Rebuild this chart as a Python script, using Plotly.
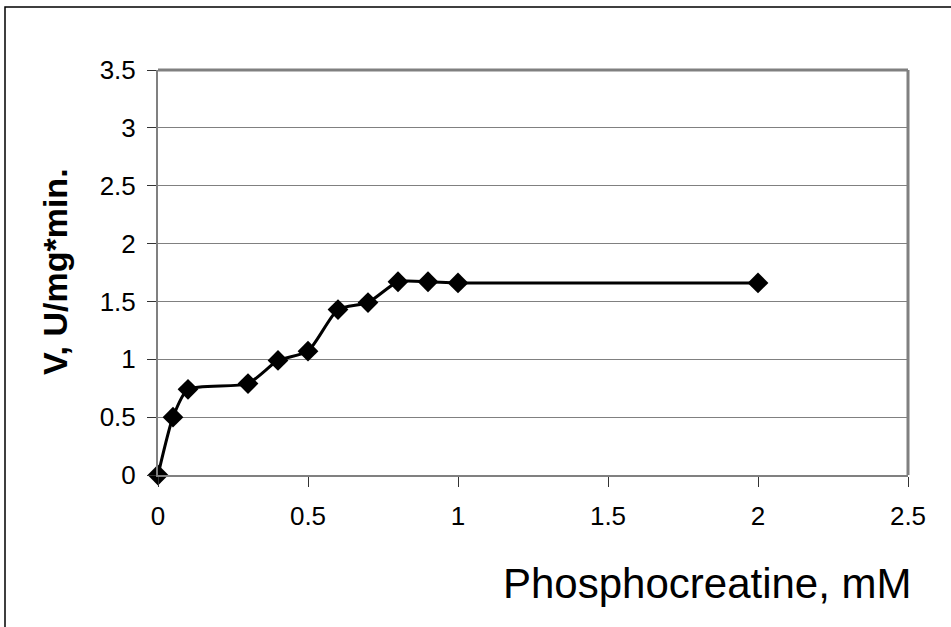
import plotly.graph_objects as go

phosphocreatine_mM = [0, 0.05, 0.1, 0.3, 0.4, 0.5, 0.6, 0.7, 0.8, 0.9, 1.0, 2.0]
velocity = [0, 0.5, 0.74, 0.79, 0.99, 1.07, 1.43, 1.49, 1.67, 1.67, 1.66, 1.66]
x_ticks = [0, 0.5, 1, 1.5, 2, 2.5]
y_ticks = [0, 0.5, 1, 1.5, 2, 2.5, 3, 3.5]

W, H = 951, 627
L, R, T, B = 158, 908, 70, 475

fig = go.Figure()
fig.add_trace(go.Scatter(
    x=phosphocreatine_mM, y=velocity, mode="lines+markers",
    line=dict(color="black", width=3, shape="spline", smoothing=0.6),
    marker=dict(symbol="diamond", size=16, color="black"),
    showlegend=False, cliponaxis=False,
))

font = "Liberation Sans, Arial, sans-serif"
px = lambda x: (x - L) / (R - L)
py = lambda y: (B - y) / (B - T)
fig.update_layout(
    width=W, height=H,
    margin=dict(l=L, r=W - R, t=T, b=H - B, pad=0),
    paper_bgcolor="white", plot_bgcolor="white",
    font=dict(family=font, color="black", size=26),
    xaxis=dict(range=[0, 2.5], tickvals=x_ticks, ticktext=[f"{v:g}" for v in x_ticks],
               showgrid=False, zeroline=False, showline=True, linecolor="#808080", linewidth=2,
               ticks="outside", ticklen=10, tickcolor="#333", tickwidth=1,
               ticklabelstandoff=7,
               tickfont=dict(size=26, family=font), fixedrange=True),
    yaxis=dict(range=[0, 3.5], tickvals=y_ticks, ticktext=[f"{v:g}" for v in y_ticks],
               showgrid=True, gridcolor="#808080", gridwidth=1, zeroline=False,
               showline=True, linecolor="#808080", linewidth=2,
               ticks="outside", ticklen=9, tickcolor="#333", tickwidth=1,
               ticklabelstandoff=6,
               tickfont=dict(size=26, family=font), fixedrange=True),
    annotations=[
        dict(text="Phosphocreatine, mM", xref="paper", yref="paper",
             x=px(707), y=py(583), xanchor="center", yanchor="middle",
             showarrow=False, font=dict(size=42, family=font, color="black")),
        dict(text="<b>V, U/mg*min.</b>", xref="paper", yref="paper",
             x=px(55), y=py(272), xanchor="center", yanchor="middle",
             textangle=-90, showarrow=False, font=dict(size=34, family=font, color="black")),
    ],
    shapes=[
        dict(type="rect", xref="paper", yref="paper",
             x0=px(5), x1=px(960), y0=py(640), y1=py(7),
             line=dict(color="black", width=1.5), layer="below"),
        dict(type="line", xref="paper", yref="paper", x0=0, x1=1, y0=1, y1=1,
             line=dict(color="#808080", width=3)),
        dict(type="line", xref="paper", yref="paper", x0=1, x1=1, y0=0, y1=1,
             line=dict(color="#808080", width=3)),
    ],
)

fig.write_html("out.html", config={"displayModeBar": False},
               post_script="document.body.style.margin='0';document.body.style.overflow='hidden';")
